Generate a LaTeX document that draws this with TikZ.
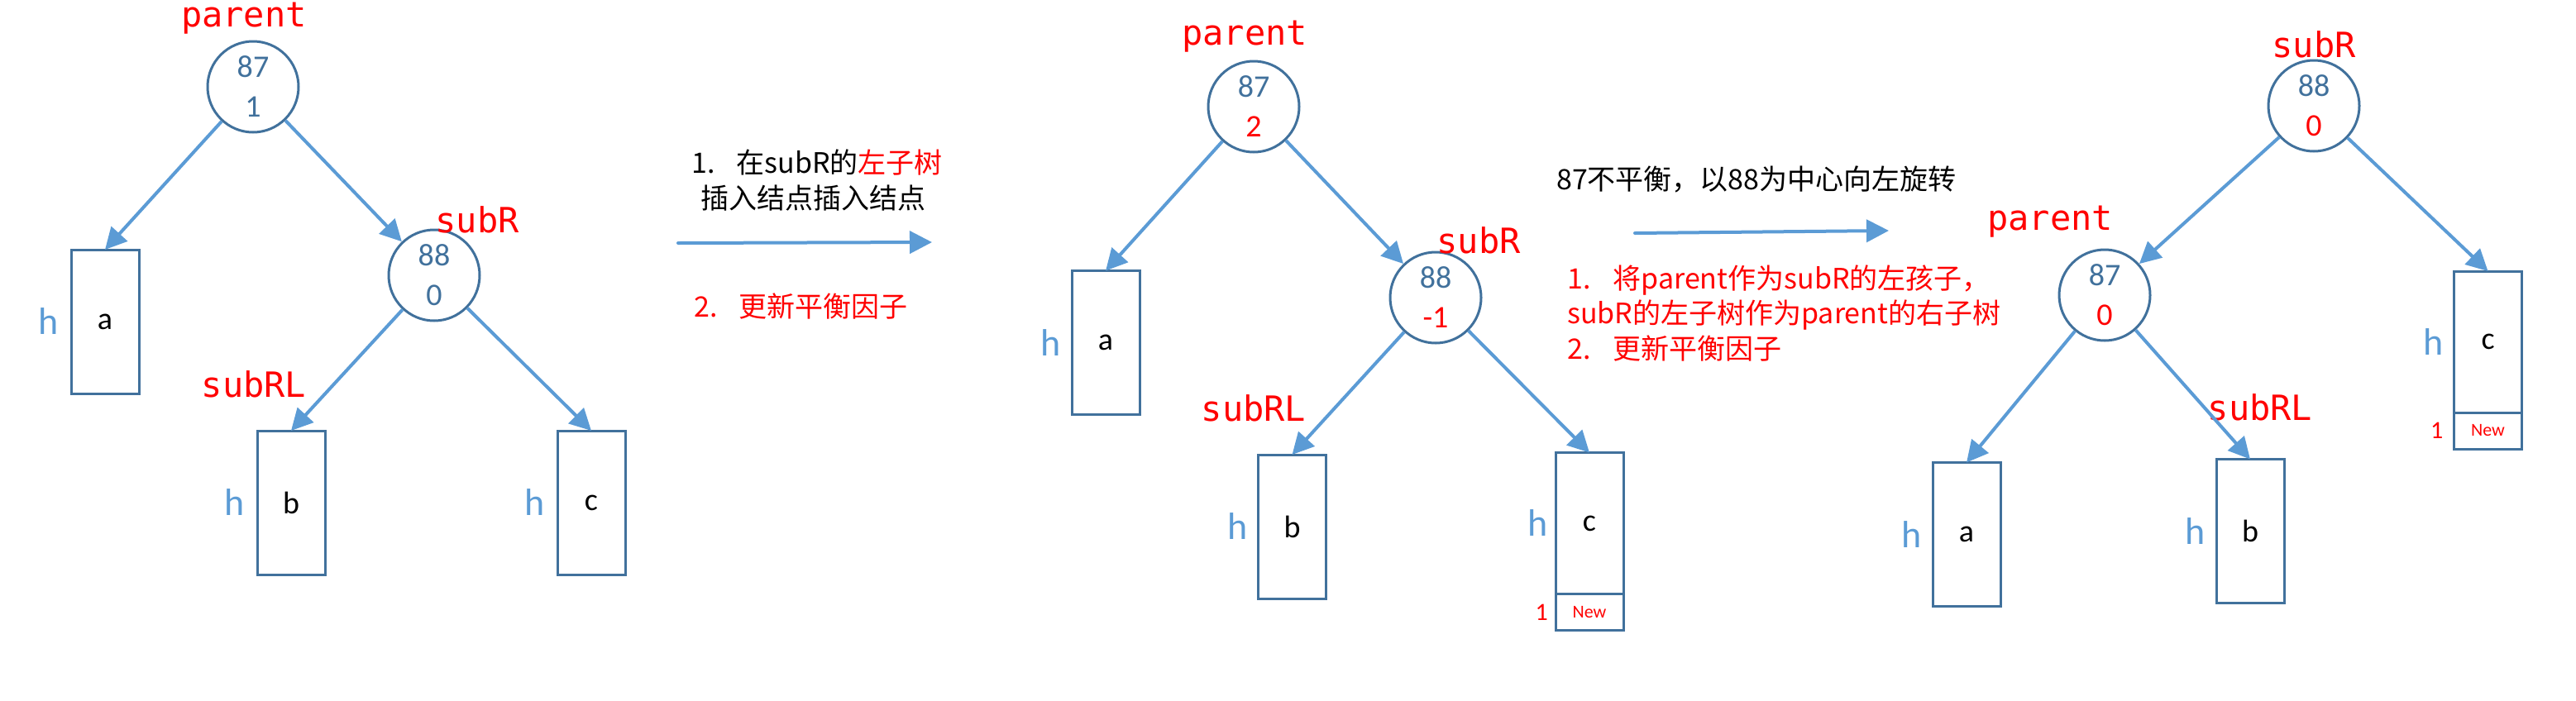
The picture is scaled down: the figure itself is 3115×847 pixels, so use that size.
\documentclass[tikz,border=0pt]{standalone}
\usepackage{fontspec}
\setmainfont{Carlito}
\newfontfamily\cjkf{Noto Sans CJK SC}
\newfontfamily\monof{DejaVu Sans Mono}
\usetikzlibrary{arrows.meta}
\definecolor{bordc}{HTML}{41719C}
\definecolor{arrc}{HTML}{5B9BD5}
\definecolor{redc}{HTML}{FF0000}
\tikzset{
  tnode/.style={circle, draw=bordc, line width=3pt, minimum size=110pt, inner sep=0pt,
    align=center, font=\fontsize{38}{48}\selectfont, text=bordc},
  sbox/.style={rectangle, draw=bordc, line width=3pt, minimum width=82pt, inner sep=0pt,
    outer sep=0pt, font=\fontsize{38}{46}\selectfont},
  newbox/.style={sbox, minimum height=44pt, anchor=north, text=redc, font=\fontsize{22}{26}\selectfont},
  lbl/.style={text=redc, font=\monof\fontsize{42}{50}\selectfont, inner sep=0pt, anchor=base},
  hl/.style={text=arrc, font=\fontsize{46}{50}\selectfont, inner sep=0pt, anchor=east},
  onel/.style={text=redc, font=\fontsize{30}{34}\selectfont, inner sep=0pt, anchor=east},
  conn/.style={draw=arrc, line width=4pt, -{Triangle[length=26pt,width=26pt]}},
  bigarrow/.style={draw=arrc, line width=4pt, line cap=round, -{Triangle[length=27pt,width=27pt]}},
  note/.style={font=\cjkf\fontsize{34}{43}\selectfont, inner sep=0pt, anchor=west},
}
\begin{document}
\begin{tikzpicture}[x=1pt,y=-1pt]
\path[use as bounding box] (0,0) rectangle (3115,847);

% ---------- Panel 1 ----------
\node[tnode] (p1r) at (306,105) {87\\1};
\node[tnode] (p1s) at (525,333) {88\\0};
\node[sbox, minimum height=174pt] (p1a) at (127,389) {a};
\node[sbox, minimum height=174pt] (p1b) at (352,608) {b};
\node[sbox, minimum height=174pt] (p1c) at (715,608) {c};
\node[lbl] (p1lp) at (295,32) {parent};
\node[lbl] (p1ls) at (577,281) {subR};
\node[lbl] (p1lrl) at (307,480) {subRL};
\node[hl] (p1ha) at ([xshift=-15pt]p1a.west) {h};
\node[hl] (p1hb) at ([xshift=-15pt]p1b.west) {h};
\node[hl] (p1hc) at ([xshift=-15pt]p1c.west) {h};
\draw[conn] (p1r) -- (p1a.north);
\draw[conn] (p1r) -- (p1s);
\draw[conn] (p1s) -- (p1b.north);
\draw[conn] (p1s) -- (p1c.north);

% ---------- middle text 1 ----------
\node[note] (m1a) at (836,197) {1.\hspace{26pt}在subR的\textcolor{redc}{左子树}};
\node[note] (m1b) at (847,240) {插入结点插入结点};
\node[note, text=redc] (m1c) at (839,371) {2.\hspace{26pt}更新平衡因子};
\coordinate (m1s) at (820,294);
\coordinate (m1e) at (1127,293);
\draw[bigarrow] (m1s) -- (m1e);

% ---------- Panel 2 ----------
\node[tnode] (p2r) at (1516,129) {87\\\textcolor{redc}{2}};
\node[tnode] (p2s) at (1736,360) {88\\\textcolor{redc}{-1}};
\node[sbox, minimum height=174pt] (p2a) at (1337,414.5) {a};
\node[sbox, minimum height=174pt] (p2b) at (1562.5,637) {b};
\node[sbox, minimum height=171pt] (p2c) at (1922,633) {c};
\node[newbox] (p2n) at (p2c.south) {New};
\node[lbl] (p2lp) at (1505,54) {parent};
\node[lbl] (p2ls) at (1788,306) {subR};
\node[lbl] (p2lrl) at (1516,509) {subRL};
\node[hl] (p2ha) at ([xshift=-13pt]p2a.west) {h};
\node[hl] (p2hb) at ([xshift=-13pt]p2b.west) {h};
\node[hl] (p2hc) at ([xshift=-9pt]p2c.west) {h};
\node[onel] (p2one) at ([xshift=-9pt]p2n.west) {1};
\draw[conn] (p2r) -- (p2a.north);
\draw[conn] (p2r) -- (p2s);
\draw[conn] (p2s) -- (p2b.north);
\draw[conn] (p2s) -- (p2c.north);

% ---------- middle text 2 ----------
\node[note] (m2t) at (1882,217) {87不平衡，以88为中心向左旋转};
\coordinate (m2s) at (1977,282);
\coordinate (m2e) at (2284,279);
\draw[bigarrow] (m2s) -- (m2e);
\node[note, text=redc] (m2a) at (1895,339) {1.\hspace{27pt}将parent作为subR的左孩子，};
\node[note, text=redc] (m2b) at (1895,381) {subR的左子树作为parent的右子树};
\node[note, text=redc] (m2c) at (1895,422) {2.\hspace{27pt}更新平衡因子};

% ---------- Panel 3 ----------
\node[tnode] (p3s) at (2798,128) {88\\\textcolor{redc}{0}};
\node[tnode] (p3r) at (2545,357) {87\\\textcolor{redc}{0}};
\node[sbox, minimum height=174pt] (p3a) at (2378,646.5) {a};
\node[sbox, minimum height=174pt] (p3b) at (2721,642.5) {b};
\node[sbox, minimum height=171pt] (p3c) at (3008.5,413.5) {c};
\node[newbox] (p3n) at (p3c.south) {New};
\node[lbl] (p3ls) at (2798,69) {subR};
\node[lbl] (p3lp) at (2479,278) {parent};
\node[lbl] (p3lrl) at (2733,508) {subRL};
\node[hl] (p3ha) at ([xshift=-13pt]p3a.west) {h};
\node[hl] (p3hb) at ([xshift=-13pt]p3b.west) {h};
\node[hl] (p3hc) at ([xshift=-13pt]p3c.west) {h};
\node[onel] (p3one) at ([xshift=-13pt]p3n.west) {1};
\draw[conn] (p3s) -- (p3r);
\draw[conn] (p3s) -- (p3c.north);
\draw[conn] (p3r) -- (p3a.north);
\draw[conn] (p3r) -- (p3b.north);
\end{tikzpicture}
\end{document}
